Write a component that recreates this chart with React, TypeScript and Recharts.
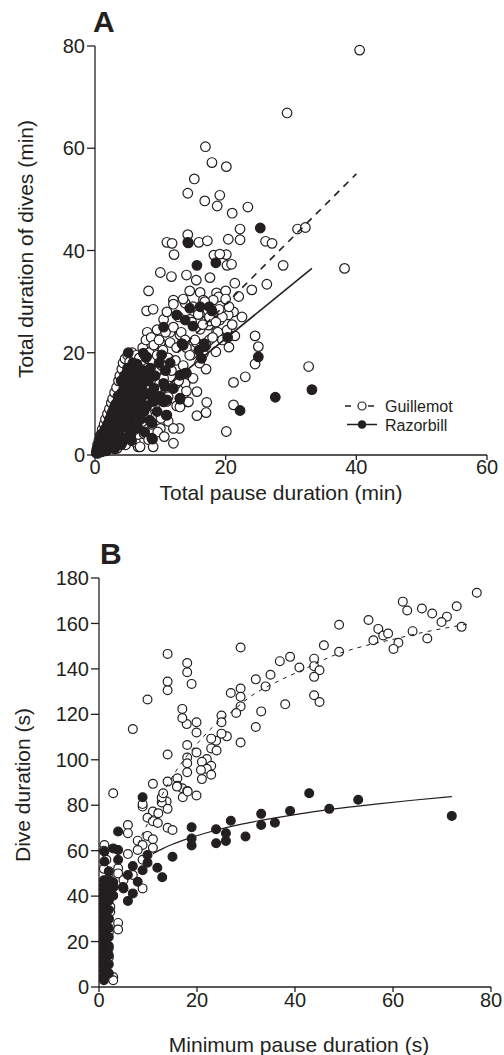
import React from 'react';
import { ScatterChart, Scatter, XAxis, YAxis } from 'recharts';

const INK = '#231f20';
const FONT = '"Liberation Sans", Arial, Helvetica, sans-serif';

// Panel A: total pause duration (min) vs total duration of dives (min)
const guillemotA: [number, number][] = [
  [40.5, 79.2], [29.4, 66.9], [16.9, 60.3], [17.9, 57.2], [20.1, 56.4], [15.2, 54.0], [14.2, 51.2],
  [19.1, 50.8], [16.8, 49.7], [18.7, 48.7], [23.4, 48.5], [21.0, 47.3], [22.2, 44.2], [31.0, 44.2],
  [32.2, 44.5], [14.2, 43.1], [11.0, 41.6], [11.8, 41.4], [15.9, 41.6], [17.2, 41.9], [20.4, 42.2],
  [22.2, 42.1], [26.1, 41.8], [27.1, 41.4], [12.1, 39.2], [18.2, 39.1], [20.1, 39.2], [19.1, 39.3],
  [38.2, 36.5], [28.8, 37.1], [24.0, 32.3], [26.3, 33.4], [10.0, 35.7], [11.7, 34.9], [8.2, 32.1],
  [7.9, 28.2], [8.9, 28.5], [14.0, 35.2], [15.5, 34.2], [17.6, 34.7], [14.5, 32.1], [16.1, 31.8],
  [18.6, 31.7], [20.0, 32.1], [21.4, 33.6], [18.9, 30.9], [20.2, 37.1], [20.9, 37.3], [12.0, 30.3],
  [13.8, 29.7], [16.6, 30.3], [18.1, 30.3], [21.2, 28.0], [22.5, 27.0], [20.4, 27.4], [19.1, 26.4],
  [17.4, 25.4], [16.1, 24.6], [18.6, 24.1], [20.2, 24.4], [21.4, 23.3], [24.5, 23.3], [25.0, 21.2],
  [24.5, 17.8], [20.5, 21.1], [18.5, 20.2], [16.6, 19.9], [14.8, 19.6], [17.0, 16.8], [15.6, 12.4],
  [17.1, 10.3], [17.0, 8.3], [15.6, 7.7], [21.2, 14.2], [23.0, 15.3], [21.2, 9.8], [20.1, 4.6],
  [32.7, 17.3], [12.9, 5.2], [12.0, 2.3], [14.2, 10.4], [12.5, 9.6], [11.2, 6.6], [10.0, 5.2],
  [13.8, 14.0], [12.3, 13.8], [11.2, 11.4], [8.7, 10.4], [7.4, 4.2], [6.6, 1.6],
  [9.5, 24.5], [10.5, 26.5], [11.0, 28.0], [12.0, 29.5], [12.8, 27.0], [13.5, 30.5], [14.5, 26.5],
  [15.0, 29.0], [16.0, 27.5], [16.8, 30.0], [17.5, 26.2], [18.2, 28.0], [19.5, 27.0], [20.5, 29.0],
  [10.0, 22.0], [11.5, 24.0], [13.0, 23.5], [14.0, 21.0], [15.5, 22.0], [17.5, 22.5], [18.8, 24.0],
  [9.0, 21.0], [8.0, 24.0],
  [0.2, 0.5], [0.3, 1.2], [0.4, 2.0], [0.5, 0.6], [0.6, 2.8], [0.7, 1.5], [0.8, 3.5], [0.9, 0.8],
  [1.0, 4.2], [1.0, 2.2], [1.1, 5.0], [1.2, 1.1], [1.3, 3.2], [1.4, 6.0], [1.5, 2.0], [1.6, 7.0],
  [1.7, 4.2], [1.8, 0.9], [1.9, 8.0], [2.0, 5.5], [2.1, 3.0], [2.2, 9.0], [2.3, 1.5], [2.4, 6.5],
  [2.5, 10.2], [2.6, 4.0], [2.7, 11.0], [2.8, 7.5], [2.9, 2.2], [3.0, 12.2], [3.1, 9.0], [3.2, 5.2],
  [3.3, 13.2], [3.4, 1.3], [3.5, 10.5], [3.6, 14.5], [3.7, 7.0], [3.8, 15.5], [3.9, 3.2], [4.0, 12.0],
  [4.1, 16.8], [4.2, 9.0], [4.3, 18.0], [4.4, 5.0], [4.5, 14.0], [4.6, 18.8], [4.7, 2.0], [4.8, 11.0],
  [4.9, 16.2], [5.0, 19.5], [5.1, 7.5], [5.2, 13.5], [5.3, 18.2], [5.4, 3.5], [5.5, 17.0], [5.6, 10.0],
  [5.7, 20.0], [5.8, 15.0], [5.9, 5.5], [6.0, 18.5], [6.1, 12.0], [6.2, 2.5], [6.3, 19.5], [6.4, 8.5],
  [6.5, 16.0], [6.6, 4.0], [6.7, 13.5], [6.8, 19.0], [6.9, 1.6], [7.0, 10.5], [7.1, 17.5], [7.2, 6.5],
  [7.3, 21.0], [7.4, 14.5], [7.5, 4.2], [7.6, 19.5], [7.7, 12.0], [7.8, 22.5], [7.9, 8.0], [8.0, 17.0],
  [8.2, 3.0], [8.3, 20.0], [8.4, 11.0], [8.5, 14.5], [8.6, 23.0], [8.7, 6.0], [8.8, 18.5], [8.9, 1.6],
  [9.0, 21.5], [9.1, 9.5], [9.2, 13.0], [9.4, 16.5], [9.5, 19.5], [9.6, 4.5], [9.8, 22.5], [10.0, 12.5],
  [10.1, 7.2], [10.2, 17.5], [10.4, 20.5], [10.5, 15.0], [10.6, 3.6], [10.8, 24.0], [11.0, 10.5],
  [11.2, 19.0], [11.3, 13.5], [11.5, 22.0], [11.7, 16.5], [12.0, 25.0], [12.0, 5.2], [12.3, 18.5],
  [12.5, 21.0], [12.8, 14.5], [13.0, 9.4], [13.2, 24.0], [13.5, 17.5], [13.8, 22.5], [14.0, 12.5],
  [14.3, 10.4], [14.5, 19.5], [14.8, 26.0], [15.0, 15.0], [15.3, 22.5], [15.8, 27.5], [16.0, 18.0],
  [16.5, 25.5], [17.0, 21.5], [17.5, 27.0], [18.0, 23.0], [18.5, 26.0], [19.0, 28.5], [19.5, 22.5],
  [20.0, 30.5], [21.0, 25.5], [22.0, 31.0],
];

const razorbillA: [number, number][] = [
  [14.2, 41.6], [25.3, 44.4], [14.3, 41.5], [15.6, 37.1], [18.5, 37.6], [14.5, 28.7], [13.8, 26.4],
  [15.0, 25.2], [16.1, 29.0], [17.5, 29.0], [17.9, 28.2], [12.5, 27.4], [10.5, 25.0], [5.1, 20.0],
  [6.4, 17.8], [7.8, 19.1], [13.3, 21.8], [16.7, 21.8], [15.9, 20.5], [16.3, 18.9], [20.3, 23.0],
  [25.0, 19.2], [13.8, 16.0], [13.0, 15.6], [13.0, 10.9], [10.5, 10.4], [10.9, 7.8], [8.7, 6.3],
  [8.8, 3.1], [22.2, 8.7], [27.6, 11.3], [33.2, 12.8], [10.7, 13.4], [13.5, 21.5], [16.8, 21.2],
  [7.9, 19.2], [10.2, 19.6],
  [0.2, 0.4], [0.3, 1.0], [0.4, 0.3], [0.5, 1.8], [0.6, 0.9], [0.7, 2.5], [0.8, 1.4], [0.9, 3.2],
  [1.0, 0.6], [1.1, 2.2], [1.2, 4.0], [1.3, 1.5], [1.4, 3.0], [1.5, 5.0], [1.6, 0.8], [1.7, 3.8],
  [1.8, 2.2], [1.9, 6.0], [2.0, 1.2], [2.1, 4.5], [2.2, 7.0], [2.3, 2.8], [2.4, 5.5], [2.5, 8.0],
  [2.6, 1.6], [2.7, 4.0], [2.8, 6.5], [2.9, 9.0], [3.0, 3.0], [3.1, 7.5], [3.2, 10.0], [3.3, 5.0],
  [3.4, 2.0], [3.5, 8.5], [3.6, 11.0], [3.7, 6.0], [3.8, 3.8], [3.9, 9.5], [4.0, 12.0], [4.1, 7.0],
  [4.2, 2.5], [4.3, 10.5], [4.4, 13.0], [4.5, 5.5], [4.6, 8.5], [4.7, 11.5], [4.8, 14.0], [4.9, 3.5],
  [5.0, 9.5], [5.2, 12.5], [5.3, 6.5], [5.4, 15.0], [5.5, 10.5], [5.6, 2.8], [5.7, 13.5], [5.8, 8.0],
  [5.9, 16.0], [6.0, 11.5], [6.1, 5.0], [6.2, 14.0], [6.5, 9.5], [6.6, 12.5], [6.8, 15.5], [7.0, 7.0],
  [7.1, 11.0], [7.2, 13.5], [7.4, 19.9], [7.5, 16.5], [7.6, 4.5], [7.9, 9.5], [8.0, 12.0], [8.2, 14.5],
  [8.4, 6.8], [8.5, 17.0], [8.7, 3.3], [8.8, 10.5], [9.0, 13.0], [9.2, 15.5], [9.5, 8.5], [9.8, 18.0],
  [10.0, 11.5], [10.5, 14.0], [10.8, 16.5], [11.0, 7.8], [11.0, 10.8], [11.5, 18.0], [12.0, 13.0],
  [13.0, 11.1], [14.0, 16.0],
  [1.0, 3.5], [1.2, 2.6], [1.5, 3.8], [1.8, 4.8], [2.0, 3.4], [2.2, 5.8], [2.5, 6.5], [2.7, 8.5],
  [3.0, 5.5], [3.0, 9.5], [3.3, 7.0], [3.5, 11.5], [3.7, 9.0], [4.0, 6.0], [4.0, 14.5], [4.2, 11.0],
  [4.5, 8.0], [4.5, 15.5], [4.8, 12.0], [5.0, 6.0], [5.0, 17.0], [5.3, 10.0], [5.5, 13.0], [5.8, 18.0],
  [6.0, 7.5], [6.0, 15.0], [6.3, 11.0], [6.5, 17.5], [6.8, 9.0], [7.0, 14.5], [7.3, 12.0], [7.5, 8.5],
  [8.0, 16.0], [8.5, 12.0], [9.0, 10.5], [3.0, 1.2], [4.0, 2.0], [5.5, 4.0], [6.5, 5.5], [2.0, 2.5],
  [1.4, 1.8],
];

// fitted lines
const guillemotFitA: [number, number][] = [[0, 4], [20, 29.5], [40, 55]];
const razorbillFitA: [number, number][] = [[0, 2], [33.2, 36.5]];

// Panel B: minimum pause duration (s) vs dive duration (s)
const guillemotB: [number, number][] = [
  [77.1, 173.5], [62.0, 169.6], [62.9, 165.7], [65.9, 166.6], [68.0, 164.4], [71.0, 163.0], [73.0, 167.6],
  [69.9, 160.6], [74.0, 158.5], [64.0, 156.6], [67.0, 153.4], [55.0, 161.5], [57.0, 157.6], [56.0, 152.6],
  [58.0, 154.7], [59.0, 155.6], [61.1, 151.5], [60.1, 148.8], [49.0, 159.4], [49.0, 147.5], [45.9, 150.4],
  [43.9, 144.5], [43.9, 141.2], [45.0, 139.4], [43.9, 136.5], [43.9, 128.4], [45.0, 125.4], [39.0, 145.3],
  [36.9, 143.4], [40.9, 140.6], [35.0, 137.4], [34.0, 132.3], [32.0, 135.4], [38.0, 124.4], [32.0, 114.4],
  [33.1, 121.3], [28.9, 149.4], [28.9, 131.4], [28.9, 127.7], [28.9, 123.5], [28.0, 120.6], [26.9, 129.4],
  [28.9, 107.6], [26.1, 110.3], [25.0, 111.5], [25.0, 119.5], [25.0, 116.5], [23.9, 108.4], [22.9, 109.3],
  [22.9, 105.0], [24.0, 104.1], [22.0, 100.3], [21.0, 99.1], [22.9, 97.4], [22.0, 96.0], [20.8, 95.5],
  [22.9, 93.4], [21.0, 91.5], [19.9, 103.2], [19.9, 116.5], [19.9, 112.0], [18.9, 133.4], [18.0, 142.6],
  [18.0, 138.5], [17.9, 115.7], [17.0, 122.4], [17.0, 118.4], [18.0, 106.5], [18.0, 101.0], [18.0, 98.5],
  [18.0, 94.5], [17.0, 87.5], [18.0, 86.3], [16.0, 91.9], [16.0, 88.6], [14.0, 146.6], [14.0, 134.4],
  [14.0, 130.6], [14.0, 102.3], [14.0, 90.4], [9.9, 126.5], [6.9, 113.5], [11.0, 89.4], [2.9, 85.3],
  [15.9, 88.2], [17.1, 83.5], [18.1, 86.0], [19.9, 84.3], [13.8, 81.6], [12.8, 81.2], [14.0, 78.4],
  [11.0, 77.2], [12.1, 76.5], [9.9, 74.5], [11.0, 73.0], [12.0, 72.2], [8.9, 79.4], [8.9, 80.5],
  [14.0, 70.1], [15.0, 69.1], [5.9, 71.3], [5.9, 67.7], [1.1, 62.5], [9.9, 66.5], [11.0, 65.0],
  [7.9, 64.4], [8.9, 62.5], [11.0, 61.3], [7.9, 60.3], [5.9, 58.5], [8.9, 56.0], [3.9, 52.2],
  [3.9, 50.0], [5.0, 47.1], [6.9, 49.3], [8.9, 43.4], [3.9, 28.2], [3.9, 25.3], [2.9, 4.4], [2.9, 3.0],
  [12.8, 83.4], [13.1, 85.3], [1.0, 60.0], [1.5, 56.0], [1.0, 52.0], [2.0, 48.0], [1.5, 44.0],
  [1.0, 40.0], [2.0, 36.0], [2.3, 35.3], [2.3, 33.1], [2.0, 30.0], [1.0, 27.0], [2.0, 24.0], [1.5, 21.0],
  [2.0, 17.0], [1.7, 15.4], [2.0, 13.0], [1.0, 10.0], [1.5, 7.0], [1.0, 4.0],
];

const razorbillB: [number, number][] = [
  [8.9, 83.5], [42.9, 85.3], [52.9, 82.4], [47.0, 78.4], [39.0, 77.5], [33.1, 76.2], [33.1, 71.3],
  [35.9, 72.3], [72.0, 75.3], [26.9, 73.2], [25.9, 67.7], [25.9, 64.3], [23.9, 69.4], [23.9, 63.3],
  [29.9, 66.2], [18.9, 70.3], [18.9, 65.3], [18.9, 62.3], [15.0, 57.3], [12.9, 48.3], [11.9, 52.5],
  [9.9, 58.1], [9.9, 54.7], [8.9, 51.4], [7.9, 46.3], [6.9, 53.2], [6.9, 41.2], [5.9, 49.3], [5.9, 37.9],
  [3.9, 68.4], [3.9, 56.0], [3.9, 60.3], [5.0, 43.4], [2.9, 61.0], [2.9, 40.2], [1.1, 59.6], [1.1, 55.2],
  [2.0, 50.9], [2.9, 46.1], [4.9, 44.0], [3.0, 44.0],
  [1.0, 47.0], [1.0, 45.0], [1.0, 43.0], [1.0, 41.0], [1.0, 39.0], [1.0, 37.0], [1.0, 35.0], [1.0, 33.0],
  [1.0, 31.0], [1.0, 29.0], [1.0, 27.0], [1.0, 25.0], [1.0, 23.0], [1.0, 21.0], [1.0, 19.0], [1.0, 17.0],
  [1.0, 15.0], [1.0, 13.0], [1.0, 11.0], [1.0, 9.0], [1.0, 7.0], [1.0, 5.0], [1.0, 3.0], [2.0, 44.0],
  [2.0, 38.0], [2.0, 34.0], [2.0, 30.0], [2.0, 26.0], [2.0, 22.0], [2.0, 18.0], [2.0, 14.0], [2.0, 10.0],
  [2.0, 6.0], [1.5, 42.0], [1.5, 28.0], [1.5, 8.0], [2.0, 47.0],
];

const guillemotFitB: [number, number][] = [
  [8, 63], [9, 68], [11, 76], [13, 85], [16, 96], [20, 107], [24, 116], [27, 121], [31, 128], [36, 134],
  [42, 140], [48, 146], [54, 150], [60, 153], [66, 156], [72, 158.5], [76, 160],
];
const razorbillFitB: [number, number][] = [
  [11, 58.7], [13, 60.9], [15, 62.8], [18, 65.2], [22, 67.9], [27, 70.7], [33, 73.3], [40, 75.9],
  [48, 78.4], [56, 80.4], [64, 82.2], [72, 83.8],
];

const ticksAx = [0, 20, 40, 60];
const ticksAy = [0, 20, 40, 60, 80];
const ticksBx = [0, 20, 40, 60, 80];
const ticksBy = [0, 20, 40, 60, 80, 100, 120, 140, 160, 180];

const pts = (arr: [number, number][]) => arr.map(([x, y]) => ({ x, y }));

const openDot = (r: number) => (p: any) => (
  <circle cx={p.cx} cy={p.cy} r={r} fill="#fff" stroke={INK} strokeWidth={1.2} />
);
const filledDot = (r: number) => (p: any) => (
  <circle cx={p.cx} cy={p.cy} r={r} fill={INK} stroke={INK} strokeWidth={1.2} />
);
const noDot = () => <g />;

const tickStyle = { fill: INK, fontSize: 20, fontFamily: FONT };
const axisStroke = { stroke: INK, strokeWidth: 1.3 };
const titleProps = { fill: INK, fontSize: 21, fontFamily: FONT };

const xTitle = (text: string, x: number, y: number) => () => (
  <text x={x} y={y} textAnchor="middle" {...titleProps}>
    {text}
  </text>
);
const yTitle = (text: string, x: number, y: number) => () => (
  <text transform={`translate(${x},${y}) rotate(-90)`} textAnchor="middle" dominantBaseline="central" {...titleProps}>
    {text}
  </text>
);

function PanelA() {
  return (
    <ScatterChart width={504} height={520} margin={{ top: 46, right: 17, bottom: 35, left: 0 }}>
      <XAxis
        type="number"
        dataKey="x"
        domain={[0, 60]}
        ticks={ticksAx}
        height={30}
        tickSize={5}
        tickMargin={0}
        axisLine={axisStroke}
        tickLine={axisStroke}
        tick={tickStyle}
        label={{ content: xTitle('Total pause duration (min)', 281, 500) }}
      />
      <YAxis
        type="number"
        dataKey="y"
        domain={[0, 80]}
        ticks={ticksAy}
        width={95}
        tickSize={8}
        tickMargin={2}
        axisLine={axisStroke}
        tickLine={axisStroke}
        tick={tickStyle}
        label={{ content: yTitle('Total duration of dives (min)', 25, 249) }}
      />
      <Scatter data={pts(guillemotA)} shape={openDot(4.8)} isAnimationActive={false} />
      <Scatter data={pts(razorbillA)} shape={filledDot(4.8)} isAnimationActive={false} />
      <Scatter
        data={pts(guillemotFitA)}
        shape={noDot}
        line={{ stroke: INK, strokeWidth: 1.6, strokeDasharray: '7 6' }}
        isAnimationActive={false}
      />
      <Scatter
        data={pts(razorbillFitA)}
        shape={noDot}
        line={{ stroke: INK, strokeWidth: 1.6 }}
        isAnimationActive={false}
      />
    </ScatterChart>
  );
}

function PanelB() {
  return (
    <ScatterChart width={504} height={535} margin={{ top: 58, right: 13, bottom: 38, left: 0 }}>
      <XAxis
        type="number"
        dataKey="x"
        domain={[0, 80]}
        ticks={ticksBx}
        height={30}
        tickSize={5}
        tickMargin={1}
        axisLine={axisStroke}
        tickLine={axisStroke}
        tick={tickStyle}
        label={{ content: xTitle('Minimum pause duration (s)', 299, 532) }}
      />
      <YAxis
        type="number"
        dataKey="y"
        domain={[0, 180]}
        ticks={ticksBy}
        width={99}
        tickSize={8}
        tickMargin={2}
        axisLine={axisStroke}
        tickLine={axisStroke}
        tick={tickStyle}
        label={{ content: yTitle('Dive duration (s)', 22, 265) }}
      />
      <Scatter data={pts(guillemotB)} shape={openDot(4.4)} isAnimationActive={false} />
      <Scatter data={pts(razorbillB)} shape={filledDot(4.4)} isAnimationActive={false} />
      <Scatter
        data={pts(guillemotFitB)}
        shape={noDot}
        line={{ stroke: INK, strokeWidth: 1, strokeDasharray: '4 5' }}
        lineJointType="monotoneX"
        isAnimationActive={false}
      />
      <Scatter
        data={pts(razorbillFitB)}
        shape={noDot}
        line={{ stroke: INK, strokeWidth: 1.2 }}
        lineJointType="monotoneX"
        isAnimationActive={false}
      />
    </ScatterChart>
  );
}

function Overlay() {
  return (
    <svg width={504} height={1055} style={{ position: 'absolute', left: 0, top: 0, pointerEvents: 'none' }}>
      <text x={93} y={32} fontSize={30} fontWeight="bold" fontFamily={FONT} fill={INK}>A</text>
      <text x={100} y={564} fontSize={30} fontWeight="bold" fontFamily={FONT} fill={INK}>B</text>
      {/* legend, panel A */}
      <line x1={345} y1={406} x2={351} y2={406} stroke={INK} strokeWidth={1.5} />
      <circle cx={362} cy={406} r={4} fill="#fff" stroke={INK} strokeWidth={1.2} />
      <line x1={368} y1={406} x2={374} y2={406} stroke={INK} strokeWidth={1.5} />
      <text x={385} y={412} fontSize={16} fontFamily={FONT} fill={INK}>Guillemot</text>
      <line x1={347} y1={424.5} x2={377} y2={424.5} stroke={INK} strokeWidth={1.5} />
      <circle cx={362} cy={424.5} r={4.3} fill={INK} />
      <text x={385} y={430.5} fontSize={16} fontFamily={FONT} fill={INK}>Razorbill</text>
    </svg>
  );
}

export default function App() {
  return (
    <div style={{ position: 'absolute', left: 0, top: 0, width: 504, height: 1055, background: '#fff' }}>
      <div style={{ position: 'absolute', left: 0, top: 0 }}>
        <PanelA />
      </div>
      <div style={{ position: 'absolute', left: 0, top: 520 }}>
        <PanelB />
      </div>
      <Overlay />
    </div>
  );
}
